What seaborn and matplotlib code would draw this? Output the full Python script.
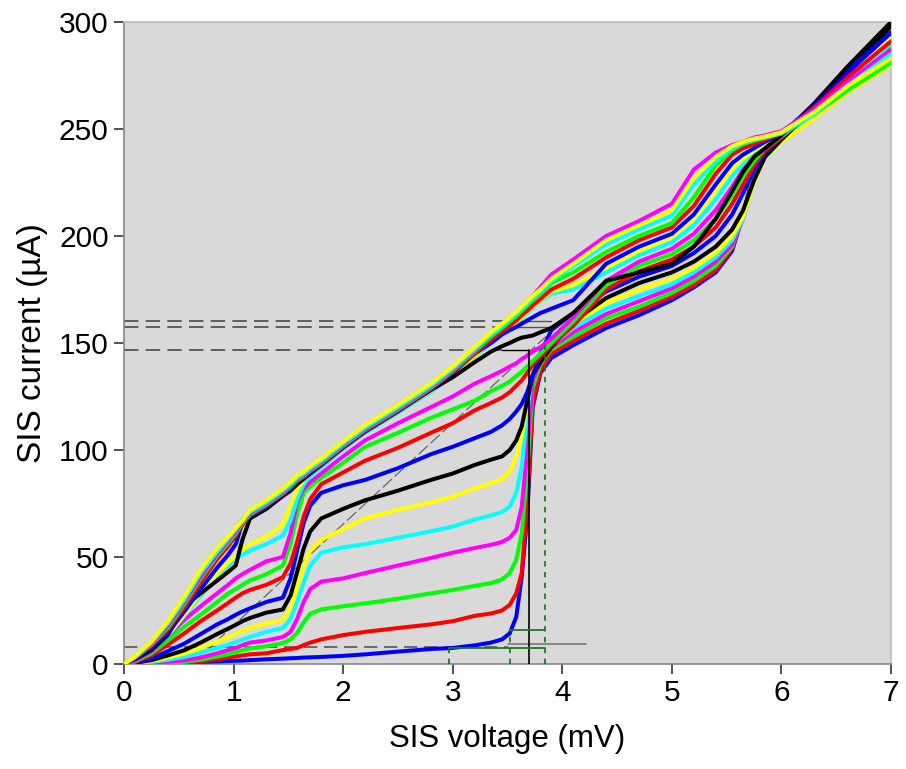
import numpy as np
import pandas as pd
import matplotlib
matplotlib.use("Agg")
import matplotlib.pyplot as plt
import seaborn as sns

# ---------------- data ----------------
bias_mv = [0, 0.1, 0.25, 0.4, 0.55, 0.7, 0.85, 0.95, 1.02, 1.08, 1.15,
           1.3, 1.45, 1.52, 1.58, 1.64, 1.7, 1.8, 2.0, 2.2, 2.5, 2.8, 3.0,
           3.2, 3.35, 3.45, 3.52, 3.58, 3.63, 3.68, 3.73, 3.8, 3.9,
           4.1, 4.4, 4.7, 5.0, 5.2, 5.4, 5.55, 5.65, 5.75, 5.85, 6.0, 6.3, 6.6, 7.0]

i_pump_00 = [0, 0, 0.3, 0.5, 0.7, 1.0, 1.2, 1.4, 1.5, 1.6, 1.8,
             2.2, 2.5, 2.7, 2.8, 3.0, 3.1, 3.3, 3.8, 4.5, 5.8, 7.0, 7.5,
             8.7, 10.0, 11.5, 14.3, 22, 41, 69, 120, 136, 143,
             149, 157, 163, 170, 176, 183, 193, 210, 230, 240, 246, 260, 274, 289]
i_pump_01 = [0, 0.1, 0.2, 0.4, 0.5, 1.2, 2.2, 3.0, 3.5, 4.0, 4.5,
             5.0, 6.5, 7.0, 7.5, 8.8, 10.0, 11.5, 13.5, 15.0, 16.8, 18.5, 20.0,
             22.5, 23.6, 25.0, 27.6, 33, 42.5, 75, 122, 137, 145,
             151, 159, 165, 171.5, 177, 184, 194, 210, 229, 239, 246, 259, 272, 287]
i_pump_02 = [0, 0.1, 0.4, 0.7, 1.0, 2.0, 3.5, 4.5, 5.5, 6.5, 7.3,
             8.3, 9.8, 11.5, 14.5, 19.5, 23.5, 25.5, 27.0, 28.3, 30.5, 33.0, 34.6,
             36.5, 37.8, 39.5, 42.5, 48.6, 61, 90, 129, 140, 147,
             153, 161.5, 167, 173.5, 179, 186, 195, 209, 228, 238, 245, 258, 270, 285]
i_pump_03 = [0, 0.2, 0.6, 1.1, 1.7, 3.0, 5.0, 6.5, 7.5, 8.8, 10.0,
             11.0, 12.6, 15.0, 21, 29, 35, 38.5, 40.0, 42.5, 46.0, 49.5, 52.0,
             54.2, 55.7, 57, 59, 62.6, 73.4, 100, 133, 141, 148,
             155, 163.5, 169.5, 175.5, 181, 188, 196, 208, 227, 238, 245, 257, 269, 283]
i_pump_04 = [0, 0.3, 1.0, 2.0, 3.3, 5.3, 7.5, 9.0, 10.2, 11.4, 12.6,
             15.0, 16.8, 21, 29, 38, 46, 52, 54.5, 56, 59, 62, 64.2,
             67.5, 69.5, 71, 73.5, 80, 92, 117, 138, 143, 149,
             157, 166, 172, 177.5, 183, 190, 198, 208, 226, 237, 244, 256, 268, 282]
i_pump_05 = [0, 0.4, 1.4, 3.0, 4.8, 7.5, 10.5, 12.5, 14.0, 15.5, 16.8,
             19.0, 20.6, 26, 36, 46, 53, 58, 63, 68, 72, 75.5, 78.2,
             82, 84.5, 86.5, 90, 97, 106, 123, 138, 144, 150,
             159, 168.5, 175, 180, 185, 192, 200, 209, 225, 237, 244, 255, 267, 280]
i_pump_06 = [0, 0.5, 1.8, 4.0, 6.4, 10.0, 14.0, 16.5, 18.3, 20.0, 21.5,
             24.0, 25.5, 32, 43, 54, 62, 68, 72.5, 76.5, 81, 86, 89,
             93, 95.5, 97, 100, 104.5, 111, 123, 135, 141, 148,
             160, 171, 178, 183, 188, 195, 203, 212, 226, 237, 245, 260, 276, 298]
i_pump_07 = [0, 0.6, 2.5, 6.0, 9.5, 14.0, 18.5, 21.0, 23.0, 24.5, 26.0,
             29.0, 31.0, 40, 53, 66, 74, 80, 83.5, 86, 91.5, 98, 101.5,
             105.5, 108.5, 111.5, 114.5, 118, 121.5, 127, 135, 145, 156,
             164, 174, 181, 186, 192, 200, 210, 220, 231, 239, 246, 261, 277, 295]
i_pump_08 = [0, 1.0, 4.0, 9.0, 14.3, 20, 25, 28.5, 31, 33, 34.6,
             37, 40.6, 47, 57, 69, 77, 84, 89.5, 95, 101, 108, 112.5,
             118.5, 122, 124.5, 127, 130, 132.5, 136, 140, 143.5, 149,
             158, 175, 183.5, 189, 195, 204, 215, 224, 233, 240, 246, 259, 273, 291]
i_pump_09 = [0, 1.2, 5.0, 11, 17.4, 23, 29, 33, 35, 37, 39,
             42, 46, 56, 70, 80, 83, 87, 94, 101.5, 108, 115, 119,
             123, 127.5, 130, 132, 134.5, 136.5, 139, 141.5, 145, 150,
             160, 177, 186, 191.5, 198, 208, 219, 228, 235, 241, 246.5, 258, 271, 288]
i_pump_10 = [0, 1.5, 6.0, 13, 20.6, 27, 33, 37, 40, 42, 44,
             48, 50, 61, 76, 82, 85, 89, 97, 104.5, 112.5, 120, 125,
             131, 134.5, 137, 139, 140.5, 142.5, 144, 146, 148, 152,
             162, 179, 188, 194, 201, 212, 223, 231, 237, 242, 247, 258, 270, 286]
i_pump_11 = [0, 2.2, 6.8, 13, 22.5, 32, 41, 46, 49, 51, 53,
             56, 60, 67, 77, 84, 88, 92, 100.5, 108, 117.5, 127, 135,
             143.5, 150, 154, 156.5, 159, 161.5, 164, 166.5, 169.5, 173,
             175, 183, 191, 197, 205, 217, 228, 234, 239, 243, 247, 259, 272, 290]
i_pump_12 = [0, 2.3, 7.0, 13.5, 23, 33, 42, 47.5, 50.5, 53.5, 56,
             59.5, 65, 74, 81, 86, 89.5, 93, 101, 108.5, 118, 127.5, 135.5,
             144, 150.5, 154.5, 157, 159.5, 162, 164.5, 167, 170, 174,
             177, 185, 193, 199.5, 208, 221, 231, 236, 240, 243, 247.5, 260, 274, 292]
i_pump_13 = [0, 2.2, 6.5, 13.5, 27, 33, 39, 43, 46, 58, 68,
             72.5, 78.5, 81, 84, 86.5, 89, 93, 101.5, 109, 118.5, 128, 134,
             141, 146, 148.5, 150, 151.5, 152.5, 153, 153.5, 155, 157,
             164, 179, 183, 187, 195, 208, 221, 230, 237, 241, 247, 262, 279, 300]
i_pump_14 = [0, 2.5, 7.5, 14.5, 24.5, 35, 45, 51, 56, 66, 69,
             73.5, 79, 82, 85, 87, 89.5, 93, 101, 108.5, 118, 128, 136,
             145, 150, 154, 156, 157.5, 159, 160.5, 162, 164, 166,
             170, 187, 195, 201, 210, 224, 234, 238, 241, 244, 248, 261, 276, 295]
i_pump_15 = [0, 2.8, 8.5, 16, 26.5, 38, 49, 55, 60, 65, 69.5,
             74, 79.5, 82.5, 85.5, 87.5, 90, 93.5, 101.5, 109, 118.5, 128.5, 136.5,
             145, 151.5, 155.5, 158, 160.5, 163, 165, 167.5, 170.5, 175,
             180, 190, 198, 204, 214, 229, 238, 241, 243, 245, 248, 260, 274, 291]
i_pump_16 = [0, 3.0, 9.0, 17, 28, 40, 50.5, 56.5, 61, 66, 70,
             74.5, 80, 83, 86, 88, 90.5, 94, 102, 109.5, 119, 129, 137,
             146, 153, 157, 160, 162.5, 165, 167.5, 170, 173, 178,
             183, 192.5, 200, 206, 218, 233, 240, 243, 244.5, 246, 248, 257, 268, 281]
i_pump_17 = [0, 3.1, 9.5, 18, 29, 41, 51.5, 57.5, 62, 67, 70.5,
             75, 80.5, 83.5, 86.5, 88.5, 91, 94.5, 102.5, 110, 119.5, 129.5, 137.5,
             146.5, 154, 158.5, 161.5, 164, 166.5, 169, 172, 176, 182,
             189, 200, 207, 215, 231, 239, 242.5, 244, 246, 247, 249, 259, 272, 287]
i_pump_18 = [0, 3.3, 10, 19, 30, 42.5, 52.5, 58.5, 63, 67.5, 71,
             75.5, 81, 84, 87, 89, 91.5, 95, 103, 110.5, 120, 130, 138,
             147, 154, 158, 161, 163.5, 166, 168.5, 171, 174, 179,
             186, 196, 203, 209.5, 224, 235, 241, 243.5, 245, 246, 248, 257, 270, 285]
i_pump_19 = [0, 3.5, 10.5, 20, 31.5, 44, 54, 59.5, 63.5, 67, 72,
             76.5, 82, 85, 88, 90, 92.5, 96, 104, 111.5, 121, 131, 139,
             148, 155, 159, 162, 164.5, 167, 169.5, 172, 175, 180,
             187, 198, 205, 212, 227, 237, 242, 244, 245.5, 246.5, 248.5, 258, 270, 283]

curves = [i_pump_00, i_pump_01, i_pump_02, i_pump_03, i_pump_04, i_pump_05, i_pump_06,
          i_pump_07, i_pump_08, i_pump_09, i_pump_10, i_pump_11, i_pump_12, i_pump_13,
          i_pump_14, i_pump_15, i_pump_16, i_pump_17, i_pump_18, i_pump_19]
color_cycle = ["#0000FF", "#FF0000", "#00FF00", "#FF00FF", "#00FFFF", "#FFFF00", "#000000"]

# reference markers
ref_levels = [160.5, 157.5, 146.5]
gap_v = 3.70
nr_line_v = [0.62, 3.85]
nr_line_i = [0.0, 153.0]
x_ticks = [0, 1, 2, 3, 4, 5, 6, 7]
y_ticks = [0, 50, 100, 150, 200, 250, 300]

# ---------------- build frame ----------------
rows = []
for k, cur in enumerate(curves):
    for v, i in zip(bias_mv, cur):
        rows.append((f"c{k:02d}", v, i))
df = pd.DataFrame(rows, columns=["curve", "bias", "current"])
hue_order = [f"c{k:02d}" for k in range(len(curves))]
palette = {h: color_cycle[k % 7] for k, h in enumerate(hue_order)}

sns.set_theme(style="white")
plt.rcParams["font.family"] = ["Liberation Sans", "DejaVu Sans"]
plt.rcParams["text.color"] = "black"
plt.rcParams["axes.labelcolor"] = "black"
plt.rcParams["xtick.color"] = "black"
plt.rcParams["ytick.color"] = "black"

fig = plt.figure(figsize=(9.06, 7.69), dpi=100)
ax = fig.add_axes([124 / 906, 1 - 664 / 769, (891 - 124) / 906, (664 - 22) / 769])
ax.set_facecolor("#D9D9D9")

# reference lines (behind curves)
for lev in ref_levels[:2]:
    ax.plot([0, 3.55], [lev, lev], color="#555555", lw=1.3, ls=(0, (8, 4)), zorder=1)
    ax.plot([3.55, 3.9], [lev, lev], color="#555555", lw=1.0, zorder=1)
ax.plot([0, 3.45], [ref_levels[2], ref_levels[2]], color="#555555", lw=1.3, ls=(0, (8, 4)), zorder=1)
ax.plot(nr_line_v, nr_line_i, color="#666666", lw=0.9, ls=(0, (10, 3)), zorder=1)
ax.plot([0, 3.5], [8, 8], color="#555555", lw=1.2, ls=(0, (8, 4)), zorder=1)
ax.plot([3.5, 4.22], [9.5, 9.5], color="#777777", lw=1.2, zorder=1)

sns.lineplot(data=df, x="bias", y="current", hue="curve", hue_order=hue_order,
             palette=palette, sort=False, estimator=None, legend=False,
             linewidth=2.9, ax=ax, zorder=3)

# markers on top
ax.plot([3.45, gap_v], [ref_levels[2], ref_levels[2]], color="black", lw=1.0, zorder=5)
ax.plot([gap_v, gap_v], [0, ref_levels[2]], color="black", lw=1.2, zorder=5)
ax.plot([3.84, 3.84], [0, 149], color="#1E7B1E", lw=1.3, ls=(0, (3, 3)), zorder=5)
ax.plot([3.52, 3.52], [0, 16], color="#1E7B1E", lw=1.3, ls=(0, (3, 3)), zorder=5)
ax.plot([2.97, 2.97], [0, 7.3], color="#1E7B1E", lw=1.3, ls=(0, (3, 3)), zorder=5)
ax.plot([3.52, 3.84], [16, 16], color="#1E7B1E", lw=1.3, zorder=5)
ax.plot([2.97, 3.84], [7.3, 7.3], color="#1E7B1E", lw=1.3, zorder=5)

ax.set_xlim(0, 7)
ax.set_ylim(0, 300)
ax.set_xticks(x_ticks)
ax.set_yticks(y_ticks)
ax.tick_params(axis="both", which="both", direction="out", length=7, width=1.2,
               color="#333333", labelcolor="black", labelsize=21.5, pad=4,
               bottom=True, left=True)
for s in ["left", "bottom"]:
    ax.spines[s].set_color("#888888")
    ax.spines[s].set_linewidth(1.2)
for s in ["top", "right"]:
    ax.spines[s].set_color("#BBBBBB")
    ax.spines[s].set_linewidth(1.2)
ax.set_xlabel("SIS voltage (mV)", fontsize=22.5, labelpad=12, color="black")
ax.set_ylabel("SIS current (µA)", fontsize=24, labelpad=8, color="black")

fig.savefig("out.png", dpi=100, facecolor="white")
